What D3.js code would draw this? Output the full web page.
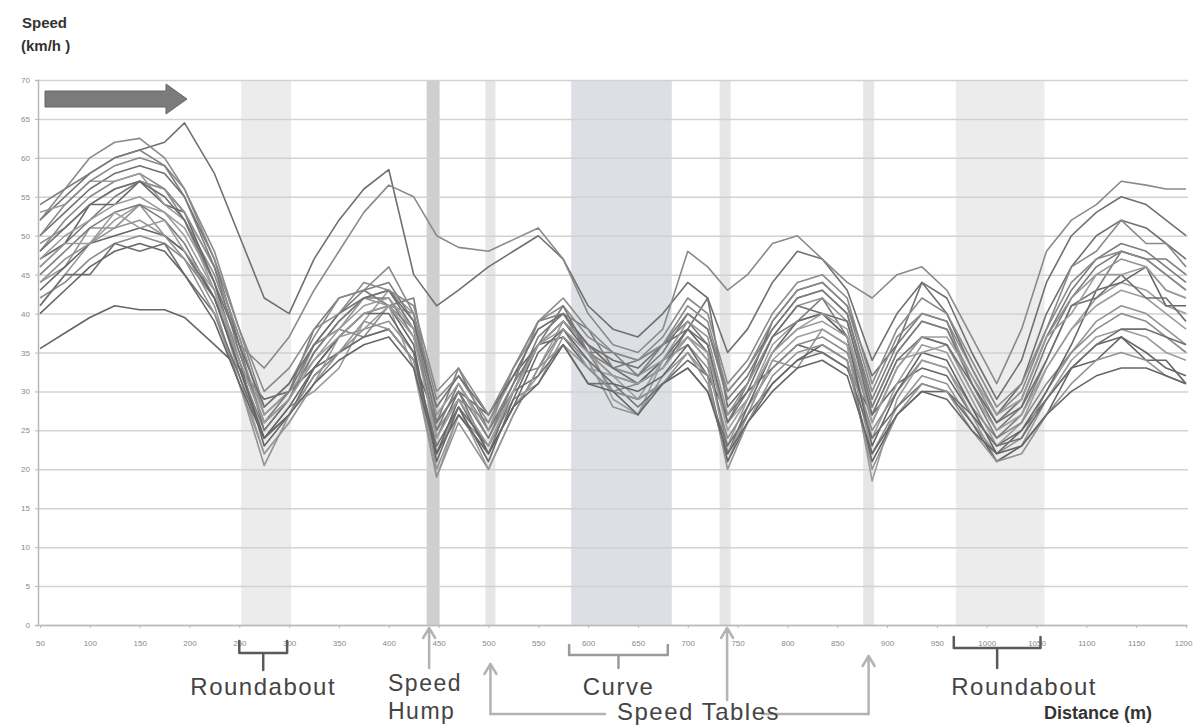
<!DOCTYPE html>
<html>
<head>
<meta charset="utf-8">
<script src="https://cdn.jsdelivr.net/npm/d3@7"></script>
<style>
  body { margin: 0; background: #fff; }
  svg { display: block; font-family: "Liberation Sans", Arial, sans-serif; }
</style>
</head>
<body>
<svg id="chart" width="1194" height="725"></svg>
<script>
// distance along the road (m) where every run was sampled
var distances = [50,75,100,125,150,175,195,225,250,275,300,325,350,375,400,425,448,470,500,525,550,575,600,625,650,675,700,720,740,760,785,810,835,860,885,910,935,960,985,1010,1035,1060,1085,1110,1135,1160,1180,1200];

// speed profiles (km/h), one array per driver run
var run01 = [52,55,58,60,61,62,64.5, 58,50,42,40, 47,52,56,58.5,45, 41,43,46, 48,50,47,41,38,37,40, 44,42,35,38, 44,48,47,43, 34,40,44,42, 35,29,34,44,50,53,55,54,52,50];
var run02 = [48,52,55,57,58,56,52, 45,36,33,37, 43,48,53,56.5,55, 50,48.5,48, 49.5,51,47,40,36,35,38, 48,46,43,45, 49,50,47,44, 42,45,46,43, 37,31,38,48,52,54,57,56.5,56,56];
var run03 = [35.5,37.5,39.5,41,40.5,40.5,39.5, 36,33,29,30, 33,35,37,38,34, 26,30,27, 32,36,37,33,30,29,31, 34,32,27,30, 33,36,35,33, 27,31,33,32, 27,23,25,29,33,36,37,35,33,32];
var run04 = [41,45,49,52,54,53,51, 44,33,24,28, 30,33,39,43,40, 22,28,20, 27,33,39,36,29,27,34, 37,34,23,29, 36,39,40,37, 24,31,36,35, 29,23,26,33,38,42,44,43,41,40];
var run05 = [46,49,52,55,57,56,53, 46,37,27,30, 38,42,43,41,42, 26,33,25, 30,37,40,35,33,32,35, 40,38,30,33, 38,42,43,40, 29,36,40,39, 31,25,28,36,42,46,48,47,45,43];
var run06 = [44,46,51,51,54,50,48, 41,31,22,26, 31,35,38,39,35, 20,27,23, 29,31,37,34,28,27,32, 35,31,21,27, 34,33,38,36, 22,28,32,31, 26,22,24,30,35,39,41,40,38,36];
var run07 = [50,53,56,58,59,58,55, 47,36,25,29, 35,39,42,43,38, 24,30,22, 30,36,39,36,34,33,36, 38,42,28,31, 39,43,44,41, 32,36,44,40, 33,27,31,40,46,50,52,51,49,47];
var run08 = [42,44,47,49,50,49,47, 42,34,26,29, 36,38,37,41,38, 25,29,26, 32,33,38,35,30,31,34, 36,33,24,28, 33,36,37,35, 25,30,34,33, 28,24,26,31,35,38,40,39,37,35];
var run09 = [47,49,54,54,57,54,53, 44,34,23,27, 33,37,40,41,36, 21,28,21, 29,36,39,35,32,31,34, 38,35,22,28, 35,39,40,37, 23,30,35,34, 28,22,25,30,36,43,44,46,41,41];
var run10 = [53,54,57,57,58,54,52, 43,32,22,26, 31,37,38,41,33, 19,27,22, 28,32,38,33,32,29,34, 37,34,22,27, 34,37,38,36, 18.5,29,34,33, 27,21,23,29,34,37,38,37,35,34];
var run11 = [45,48,51,53,54,52,49, 42,33,25,29, 35,39,42,42,37, 25,31,25, 31,39,40,38,33,34,36, 39,36,26,31, 37,39,42,37, 26,33,37,36, 30,24,27,34,41,43,48,47,47,45];
var run12 = [49,51,54,56,57,56,53, 46,37,27,30, 36,38,42,41,40, 27,31,25, 33,38,40,36,33,32,34, 39,37,27,31, 37,41,42,39, 28,35,39,38, 32,26,29,37,42,45,47,46,43,42];
var run13 = [41,45,45,49,48,49,45, 40,32,24,27, 32,35,37,38,34, 23,28,23, 30,32,36,31,31,28,31, 33,30,23,27, 31,34,35,33, 24,28,31,30, 27,23,24,29,33,36,38,38,37,36];
var run14 = [50,54,57,59,60,59,56, 48,38,28,31, 37,42,43,46,40, 29,32,26, 33,39,41,37,35,34,37, 42,40,31,34, 40,44,45,42, 31,38,42,40, 34,28,31,38,46,48,52,49,49,46];
var run15 = [43,46,49,50,51,50,48, 42,33,24,28, 33,37,40,40,35, 22,29,22, 28,35,38,34,31,30,32, 36,32,21,26, 31,34,36,34, 21,27,30,30, 26,21,23,27,33,34,37,34,34,31];
var run16 = [46,49,49,53,51,52,48, 43,35,27,30, 34,38,41,42,38, 27,31,24, 30,36,39,36,33,31,33, 37,35,26,29, 35,38,39,37, 27,34,35,36, 30,25,27,33,38,41,43,42,40,38];
var run17 = [54,56,58,60,61,59,55, 46,35,26,30, 36,40,43,44,39, 26,30,24, 31,36,41,35,35,32,36, 40,38,29,32, 38,42,43,40, 28,35,39,38, 31,26,29,37,43,47,49,48,46,44];
var run18 = [44,47,49,51,52,50,47, 40,31,20.5,27, 32,35,39,38,34, 19,26,20, 27,33,36,33,30,29,31, 35,32,20,26, 32,35,36,34, 20,27,31,30, 25,21,22,27,31,34,35,34,32,31];
var run19 = [48,51,54,56,57,55,52, 44,36,28,31, 36,40,42,43,39, 28,32,27, 32,38,40,36,33,31,33, 38,36,26,30, 37,41,40,39, 27,34,37,36, 31,26,28,34,41,42,45,42,42,39];
var run20 = [52,56,60,62,62.5,60,56, 47,38,30,33, 38,40,44,43,41, 30,33,27, 33,39,42,38,35,34,36, 41,39,30,33, 39,43,44,41, 30,37,40,39, 33,27,30,38,44,47,48,47,45,43];
var run21 = [40,43,46,48,49,48,45, 39,31,24,27, 31,34,36,37,33, 22,27,22, 28,31,36,31,30,27,31, 33,30,22,26, 30,33,34,32, 22,27,30,29, 25,22,23,27,30,32,33,33,32,31];
var run22 = [47,50,52,54,55,53,50, 43,34,26,29, 34,37,40,41,37, 24,29,23, 30,36,38,35,32,31,33, 37,35,25,29, 35,38,40,38, 26,33,37,37, 32,27,29,37,40,45,45,46,43,42];

var runs = [run01,run02,run03,run04,run05,run06,run07,run08,run09,run10,run11,
            run12,run13,run14,run15,run16,run17,run18,run19,run20,run21,run22];

// axis tick values
var xTickValues = [50,100,150,200,250,300,350,400,450,500,550,600,650,700,750,800,850,900,950,1000,1050,1100,1150,1200];
var yTickValues = [0,5,10,15,20,25,30,35,40,45,50,55,60,65,70];

// road features along the route (m)
var zoneKind  = ["roundabout","hump","table","curve","table","table","roundabout"];
var zoneStart = [252, 438, 497, 583, 732, 876, 969];
var zoneEnd   = [302, 451, 507, 684, 743, 887, 1058];

var svg = d3.select("#chart");

var x = d3.scaleLinear().domain([50, 1200]).range([40, 1186]);
var y = d3.scaleLinear().domain([0, 70]).range([625, 80]);

var zoneFill = {roundabout: "#ececec", hump: "#cfcfcf", table: "#e6e6e6", curve: "#dcdfe3"};

// shaded feature bands
svg.append("g").selectAll("rect")
    .data(zoneKind)
  .enter().append("rect")
    .attr("x", function(d, i) { return x(zoneStart[i]); })
    .attr("width", function(d, i) { return x(zoneEnd[i]) - x(zoneStart[i]); })
    .attr("y", y(70))
    .attr("height", y(0) - y(70))
    .attr("fill", function(d) { return zoneFill[d]; });

// horizontal grid
var grid = svg.append("g")
    .attr("transform", "translate(38,0)")
    .call(d3.axisLeft(y).tickValues(yTickValues).tickSize(-1150).tickFormat(""));
grid.select(".domain").remove();
grid.selectAll("line").attr("stroke", "#d2d2d2").attr("stroke-width", 1.5);

// speed profiles
var line = d3.line()
    .x(function(d, i) { return x(distances[i]); })
    .y(function(d) { return y(d); });

var greys = ["#707070", "#8a8a8a", "#666666", "#9c9c9c", "#7c7c7c", "#939393"];

svg.append("g").selectAll("path")
    .data(runs)
  .enter().append("path")
    .attr("d", line)
    .attr("fill", "none")
    .attr("stroke", function(d, i) { return greys[i % greys.length]; })
    .attr("stroke-width", 1.6)
    .attr("stroke-linejoin", "round");

// axes
var yAxis = svg.append("g")
    .attr("transform", "translate(38,0)")
    .call(d3.axisLeft(y).tickValues(yTickValues).tickSize(3));
yAxis.selectAll("text").attr("fill", "#8a8a8a").style("font-size", "8px").attr("x", -8);

var xAxis = svg.append("g")
    .attr("transform", "translate(0," + y(0) + ")")
    .call(d3.axisBottom(x).tickValues(xTickValues).tickFormat(d3.format("d")).tickSize(3).tickSizeOuter(0));
xAxis.selectAll("text").attr("fill", "#8a8a8a").style("font-size", "8px").attr("y", 15);
xAxis.selectAll(".tick:last-of-type text").attr("text-anchor", "end").attr("dx", 6);

svg.selectAll(".domain").attr("stroke", "#b8b8b8").attr("stroke-width", 1.5);
xAxis.selectAll(".tick line").attr("stroke", "#b8b8b8");
yAxis.selectAll(".tick line").attr("stroke", "#b8b8b8");

// direction arrow
svg.append("path")
    .attr("d", "M45,91 L166,91 L166,84 L187,99 L166,114 L166,107 L45,107 Z")
    .attr("fill", "#7b7b7b")
    .attr("stroke", "#666")
    .attr("stroke-width", 1);

// axis titles
svg.append("text").attr("x", 22).attr("y", 28)
    .style("font-size", "15px").style("font-weight", "bold").attr("fill", "#333")
    .text("Speed");
svg.append("text").attr("x", 21).attr("y", 51)
    .style("font-size", "15px").style("font-weight", "bold").attr("fill", "#333")
    .text("(km/h )");
svg.append("text").attr("x", 1044).attr("y", 719)
    .style("font-size", "18px").style("font-weight", "bold").attr("fill", "#333")
    .text("Distance (m)");

// annotations
var ann = svg.append("g").attr("fill", "none").attr("stroke-linejoin", "round").attr("stroke-linecap", "round");

function brace(i, top, bar, bottom, colour) {
  var a = x(zoneStart[i]) - 2, b = x(zoneEnd[i]) - 4, m = (a + b) / 2;
  ann.append("path")
      .attr("d", "M" + a + "," + top + " L" + a + "," + bar + " L" + b + "," + bar + " L" + b + "," + top +
                 " M" + m + "," + bar + " L" + m + "," + bottom)
      .attr("stroke", colour)
      .attr("stroke-width", 2.5);
  return m;
}

function upArrow(px, tip, tail) {
  ann.append("path")
      .attr("d", "M" + px + "," + tail + " L" + px + "," + tip +
                 " M" + (px - 6) + "," + (tip + 10) + " L" + px + "," + tip + " L" + (px + 6) + "," + (tip + 10))
      .attr("stroke", "#b3b3b3")
      .attr("stroke-width", 2.5);
}

var r1 = brace(0, 641, 653, 670, "#5a5a5a");
var cv = brace(3, 645, 655, 668, "#9a9a9a");
var r2 = brace(6, 637, 648, 668, "#5a5a5a");

var humpX = x((zoneStart[1] + zoneEnd[1]) / 2) - 4;
var t1 = x((zoneStart[2] + zoneEnd[2]) / 2);
var t2 = x((zoneStart[4] + zoneEnd[4]) / 2) + 2;
var t3 = x((zoneStart[5] + zoneEnd[5]) / 2);

upArrow(humpX, 628, 668);
upArrow(t1, 664, 714);
upArrow(t2, 628, 700);
upArrow(t3, 656, 714);
ann.append("path").attr("d", "M" + t1 + ",714 L605,714 M762,714 L" + t3 + ",714")
    .attr("stroke", "#b3b3b3").attr("stroke-width", 2.5);

var labels = svg.append("g").attr("fill", "#444").style("font-size", "24px").style("letter-spacing", "1.5px");
labels.append("text").attr("x", r1).attr("y", 695).attr("text-anchor", "middle").text("Roundabout");
labels.append("text").attr("x", 388).attr("y", 691).style("font-size", "23px").text("Speed");
labels.append("text").attr("x", 388).attr("y", 719).style("font-size", "23px").text("Hump");
labels.append("text").attr("x", cv).attr("y", 695).attr("text-anchor", "middle").text("Curve");
labels.append("text").attr("x", 617).attr("y", 720).text("Speed Tables");
labels.append("text").attr("x", r2 + 27).attr("y", 695).attr("text-anchor", "middle").text("Roundabout");
</script>
</body>
</html>
